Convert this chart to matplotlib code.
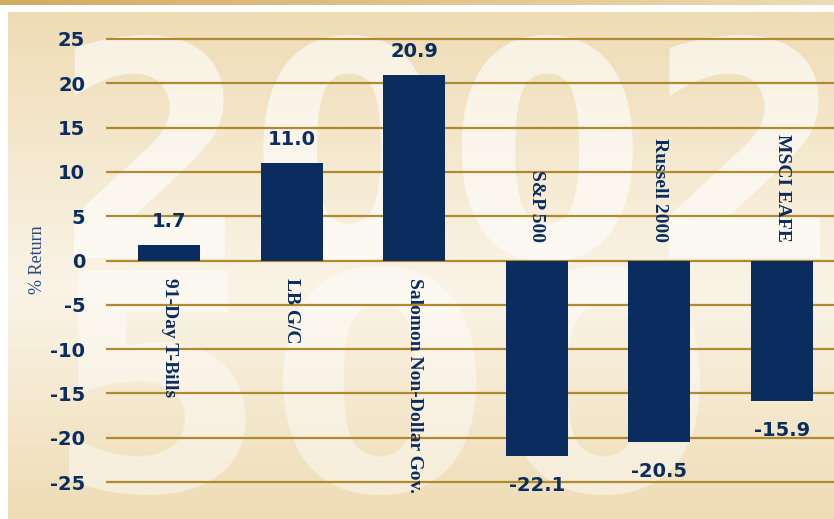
import numpy as np
import matplotlib
matplotlib.use("Agg")
import matplotlib.pyplot as plt
from matplotlib.colors import LinearSegmentedColormap, to_rgb
from matplotlib.textpath import TextPath
from matplotlib.patches import PathPatch
from matplotlib.font_manager import FontProperties
from matplotlib.transforms import Affine2D

# ---------------- data ----------------
categories = ["91-Day T-Bills", "LB G/C", "Salomon Non-Dollar Gov.",
              "S&P 500", "Russell 2000", "MSCI EAFE"]
returns = [1.7, 11.0, 20.9, -22.1, -20.5, -15.9]
value_labels = ["1.7", "11.0", "20.9", "-22.1", "-20.5", "-15.9"]
yticks = [-25, -20, -15, -10, -5, 0, 5, 10, 15, 20, 25]
ytick_labels = ["-25", "-20", "-15", "-10", "-5", "0", "5", "10", "15", "20", "25"]
ylabel = "% Return"

NAVY = "#0a2c5f"
GRID = "#b08a30"
W, H = 834, 519

fig = plt.figure(figsize=(W / 100, H / 100), dpi=100)
fig.patch.set_facecolor("white")

# ---- top gold strip ----
strip = fig.add_axes([0, 1 - 5 / H, 1, 5 / H])
strip.set_axis_off()
c1, c2 = np.array(to_rgb("#d3ab60")), np.array(to_rgb("#ecdcb4"))
t = np.linspace(0, 1, 400)[None, :, None]
strip.imshow(c1 + (c2 - c1) * t, aspect="auto", extent=[0, 1, 0, 1])

# ---- background panel with gradient ----
bg = fig.add_axes([8 / W, 0, 1 - 8 / W, (H - 12) / H])
bg.set_axis_off()
bg_cmap = LinearSegmentedColormap.from_list(
    "bgc", [(0.0, "#eedcb4"), (0.55, "#faf4e7"), (1.0, "#eedcb4")])
grad = np.linspace(0, 1, 512)[:, None]
bg.imshow(grad, cmap=bg_cmap, aspect="auto", extent=[8, W, H, 12], zorder=0)
bg.set_xlim(8, W)
bg.set_ylim(H, 12)


def watermark(ax, s, x0, x1, ytop, ybot, alpha):
    fp = FontProperties(family="DejaVu Sans", weight="bold")
    tp = TextPath((0, 0), s, size=1, prop=fp)
    ext = tp.get_extents()
    sx = (x1 - x0) / ext.width
    sy = (ybot - ytop) / ext.height
    tr = Affine2D().translate(-ext.x0, -ext.y0).scale(sx, -sy).translate(x0, ybot)
    path = tr.transform_path(tp)
    ax.add_patch(PathPatch(path, facecolor="white", edgecolor="none",
                           alpha=alpha, zorder=1, clip_on=True))


watermark(bg, "2002", 74, 820, 35, 262, 0.62)
watermark(bg, "500", 69, 700, 266, 495, 0.45)

# ---- main chart axes ----
pad = 0.3
ppu = 443 / 50.0
ax = fig.add_axes([106 / W, (H - 482 - pad * ppu) / H, 728 / W, (443 + 2 * pad * ppu) / H])
ax.patch.set_alpha(0)
ax.set_ylim(-25 - pad, 25 + pad)
ax.set_xlim(-0.514, 5.424)
for sp in ax.spines.values():
    sp.set_visible(False)

x = np.arange(len(categories))
ax.set_yticks(yticks)
ax.set_yticklabels(ytick_labels, fontsize=14, fontweight="bold",
                   color=NAVY, family="DejaVu Sans")
ax.tick_params(axis="y", length=0, pad=15)
ax.set_xticks([])
ax.yaxis.grid(True, color=GRID, linewidth=1.6)
ax.set_axisbelow(True)

ax.bar(x, returns, width=0.506, color=NAVY, zorder=3)

for i, (v, lbl, cat) in enumerate(zip(returns, value_labels, categories)):
    if v >= 0:
        ax.annotate(lbl, (i, v), xytext=(0, 13), textcoords="offset points",
                    ha="center", va="baseline", fontsize=14, fontweight="bold",
                    color=NAVY, family="DejaVu Sans", zorder=4)
        ax.text(i, -2.0, cat, rotation=270, ha="center", va="top",
                fontsize=14, fontweight="bold", color=NAVY,
                family="Liberation Serif", zorder=4)
    else:
        ax.annotate(lbl, (i, v), xytext=(0, -14), textcoords="offset points",
                    ha="center", va="top", fontsize=14, fontweight="bold",
                    color=NAVY, family="DejaVu Sans", zorder=4)
        ax.text(i, 2.1, cat, rotation=270, ha="center", va="bottom",
                fontsize=14, fontweight="bold", color=NAVY,
                family="Liberation Serif", zorder=4)

fig.text(37 / W, 1 - 260 / H, ylabel, rotation=90, ha="center", va="center",
         fontsize=13, color="#2b4a80", family="Liberation Serif")

fig.savefig("out.png", dpi=100, facecolor=fig.get_facecolor())
